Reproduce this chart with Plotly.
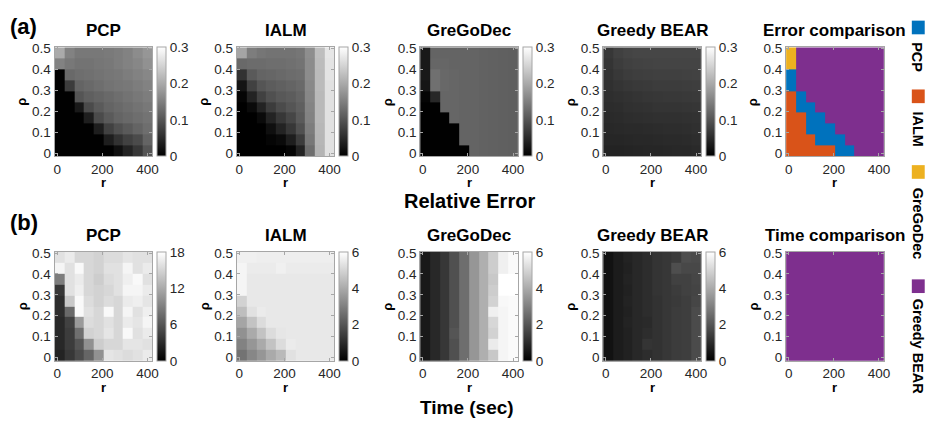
import plotly.graph_objects as go

# ---------------- data ----------------
R_VALUES = [10, 53, 97, 140, 183, 227, 270, 313, 357, 400]
RHO_VALUES = [0.01, 0.062, 0.114, 0.167, 0.219, 0.271, 0.323, 0.376, 0.428, 0.48]
X_TICKS = [0, 200, 400]
Y_TICKS = [0, 0.1, 0.2, 0.3, 0.4, 0.5]
Y_TICK_TEXT = ["0", "0.1", "0.2", "0.3", "0.4", "0.5"]

METHODS = ["PCP", "IALM", "GreGoDec", "Greedy BEAR"]
METHOD_COLORS = ["#0072BD", "#D95319", "#EDB120", "#7E2F8E"]

ERR_TICKS = [0, 0.1, 0.2, 0.3]
ERR_TICK_TEXT = ["0", "0.1", "0.2", "0.3"]
PCP_TIME_TICKS = [0, 6, 12, 18]
TIME_TICKS = [0, 2, 4, 6]

# relative error, rows = rho (bottom -> top), cols = r
PCP_ERR = [
    [0.001, 0.001, 0.001, 0.001, 0.001, 0.001, 0.018, 0.041, 0.065, 0.100],
    [0.001, 0.001, 0.001, 0.001, 0.001, 0.035, 0.059, 0.076, 0.088, 0.118],
    [0.001, 0.001, 0.001, 0.001, 0.035, 0.076, 0.094, 0.106, 0.118, 0.129],
    [0.001, 0.001, 0.001, 0.035, 0.088, 0.106, 0.118, 0.124, 0.129, 0.135],
    [0.001, 0.001, 0.029, 0.088, 0.106, 0.118, 0.124, 0.129, 0.135, 0.141],
    [0.001, 0.001, 0.100, 0.112, 0.118, 0.124, 0.129, 0.135, 0.141, 0.147],
    [0.001, 0.071, 0.118, 0.124, 0.129, 0.135, 0.139, 0.141, 0.147, 0.153],
    [0.001, 0.124, 0.129, 0.132, 0.135, 0.139, 0.141, 0.147, 0.153, 0.159],
    [0.153, 0.141, 0.135, 0.135, 0.139, 0.141, 0.147, 0.153, 0.159, 0.171],
    [0.200, 0.153, 0.141, 0.141, 0.141, 0.144, 0.147, 0.153, 0.165, 0.176],
]
IALM_ERR = [
    [0.000, 0.000, 0.000, 0.000, 0.000, 0.006, 0.041, 0.129, 0.212, 0.265],
    [0.000, 0.000, 0.000, 0.006, 0.012, 0.035, 0.071, 0.141, 0.214, 0.265],
    [0.000, 0.000, 0.000, 0.018, 0.041, 0.065, 0.094, 0.147, 0.215, 0.265],
    [0.000, 0.000, 0.012, 0.041, 0.065, 0.082, 0.106, 0.153, 0.218, 0.265],
    [0.000, 0.012, 0.041, 0.071, 0.088, 0.100, 0.112, 0.155, 0.218, 0.265],
    [0.006, 0.041, 0.076, 0.094, 0.104, 0.108, 0.118, 0.159, 0.218, 0.265],
    [0.024, 0.076, 0.100, 0.108, 0.113, 0.118, 0.124, 0.161, 0.220, 0.265],
    [0.059, 0.106, 0.118, 0.120, 0.124, 0.127, 0.129, 0.165, 0.220, 0.268],
    [0.124, 0.127, 0.127, 0.129, 0.129, 0.132, 0.135, 0.165, 0.221, 0.268],
    [0.194, 0.147, 0.139, 0.135, 0.135, 0.135, 0.139, 0.167, 0.224, 0.271],
]
GREGODEC_ERR = [
    [0.001, 0.001, 0.001, 0.001, 0.001, 0.118, 0.115, 0.114, 0.113, 0.112],
    [0.001, 0.001, 0.001, 0.001, 0.118, 0.118, 0.115, 0.114, 0.113, 0.112],
    [0.001, 0.001, 0.001, 0.001, 0.118, 0.118, 0.115, 0.114, 0.113, 0.112],
    [0.001, 0.001, 0.001, 0.120, 0.118, 0.118, 0.115, 0.114, 0.113, 0.112],
    [0.001, 0.001, 0.120, 0.120, 0.118, 0.118, 0.115, 0.114, 0.113, 0.112],
    [0.006, 0.047, 0.120, 0.120, 0.118, 0.118, 0.115, 0.114, 0.113, 0.112],
    [0.026, 0.132, 0.122, 0.120, 0.118, 0.118, 0.115, 0.114, 0.113, 0.112],
    [0.029, 0.132, 0.122, 0.120, 0.118, 0.118, 0.115, 0.114, 0.113, 0.112],
    [0.029, 0.120, 0.120, 0.118, 0.118, 0.118, 0.115, 0.114, 0.113, 0.112],
    [0.029, 0.118, 0.118, 0.118, 0.118, 0.118, 0.115, 0.114, 0.113, 0.112],
]
GREEDY_ERR = [
    [0.041, 0.041, 0.042, 0.044, 0.045, 0.045, 0.046, 0.047, 0.047, 0.049],
    [0.045, 0.045, 0.046, 0.047, 0.047, 0.048, 0.049, 0.049, 0.051, 0.053],
    [0.047, 0.048, 0.049, 0.049, 0.051, 0.052, 0.053, 0.053, 0.054, 0.056],
    [0.049, 0.051, 0.053, 0.054, 0.055, 0.056, 0.056, 0.056, 0.058, 0.059],
    [0.052, 0.053, 0.056, 0.058, 0.059, 0.061, 0.061, 0.061, 0.062, 0.064],
    [0.054, 0.056, 0.059, 0.061, 0.064, 0.065, 0.066, 0.066, 0.067, 0.068],
    [0.056, 0.061, 0.065, 0.067, 0.068, 0.071, 0.071, 0.071, 0.072, 0.073],
    [0.059, 0.066, 0.071, 0.073, 0.074, 0.075, 0.075, 0.075, 0.076, 0.078],
    [0.061, 0.071, 0.075, 0.078, 0.079, 0.080, 0.080, 0.080, 0.080, 0.080],
    [0.065, 0.075, 0.080, 0.082, 0.082, 0.082, 0.082, 0.082, 0.082, 0.082],
]
# best method index (0 PCP, 1 IALM, 2 GreGoDec, 3 Greedy BEAR)
ERR_BEST = [
    [1, 1, 1, 1, 1, 0, 0, 3, 3, 3],
    [1, 1, 1, 0, 0, 0, 3, 3, 3, 3],
    [1, 1, 0, 0, 0, 3, 3, 3, 3, 3],
    [1, 1, 0, 0, 3, 3, 3, 3, 3, 3],
    [1, 0, 0, 3, 3, 3, 3, 3, 3, 3],
    [1, 0, 3, 3, 3, 3, 3, 3, 3, 3],
    [0, 3, 3, 3, 3, 3, 3, 3, 3, 3],
    [0, 3, 3, 3, 3, 3, 3, 3, 3, 3],
    [2, 3, 3, 3, 3, 3, 3, 3, 3, 3],
    [2, 3, 3, 3, 3, 3, 3, 3, 3, 3],
]

# run time (sec)
PCP_TIME = [
    [2.5, 3.9, 5.3, 7.1, 10.2, 16.2, 15.9, 15.5, 15.9, 16.6],
    [2.8, 4.2, 6.0, 10.2, 14.5, 15.2, 15.2, 16.2, 16.2, 15.9],
    [2.8, 4.2, 7.8, 14.8, 15.2, 16.2, 15.2, 17.6, 15.9, 16.6],
    [2.8, 4.6, 10.9, 15.5, 15.2, 15.9, 15.2, 16.6, 16.2, 17.3],
    [3.2, 7.4, 17.6, 15.9, 15.2, 17.6, 15.2, 17.3, 15.9, 16.9],
    [3.2, 14.1, 17.6, 15.5, 14.8, 15.5, 15.2, 16.6, 16.9, 16.2],
    [3.9, 15.9, 16.9, 15.2, 14.8, 15.2, 15.9, 17.3, 17.3, 16.6],
    [8.8, 15.9, 16.6, 15.2, 14.5, 15.5, 15.9, 16.9, 17.6, 15.9],
    [17.3, 15.9, 17.6, 15.2, 14.8, 15.9, 15.9, 17.3, 15.9, 16.6],
    [15.9, 16.6, 15.2, 15.2, 14.8, 15.5, 15.5, 16.2, 15.9, 15.9],
]
IALM_TIME = [
    [2.71, 3.18, 3.53, 4.00, 4.35, 5.29, 5.46, 5.46, 5.46, 5.46],
    [3.06, 3.53, 4.00, 4.59, 5.18, 5.53, 5.46, 5.46, 5.46, 5.46],
    [3.41, 4.00, 4.59, 5.18, 5.41, 5.46, 5.46, 5.46, 5.46, 5.46],
    [3.88, 4.59, 5.18, 5.46, 5.46, 5.46, 5.46, 5.46, 5.46, 5.46],
    [4.47, 5.29, 5.53, 5.46, 5.46, 5.46, 5.46, 5.46, 5.46, 5.46],
    [4.94, 5.46, 5.46, 5.46, 5.46, 5.46, 5.46, 5.46, 5.46, 5.46],
    [5.76, 5.46, 5.46, 5.46, 5.46, 5.46, 5.46, 5.46, 5.46, 5.46],
    [5.76, 5.46, 5.46, 5.46, 5.46, 5.46, 5.46, 5.46, 5.46, 5.46],
    [5.76, 5.53, 5.53, 5.53, 5.65, 5.53, 5.53, 5.53, 5.53, 5.53],
    [5.65, 5.65, 5.60, 5.60, 5.60, 5.60, 5.60, 5.60, 5.60, 5.60],
]
GREGODEC_TIME = [
    [0.59, 0.94, 1.29, 1.88, 2.59, 3.53, 4.12, 4.71, 5.76, 5.88],
    [0.59, 0.94, 1.29, 1.88, 2.59, 3.53, 4.12, 5.53, 5.76, 5.88],
    [0.59, 0.94, 1.29, 2.00, 2.59, 3.53, 4.12, 4.94, 5.76, 5.88],
    [0.59, 0.94, 1.29, 1.88, 2.59, 3.53, 4.12, 5.06, 5.76, 5.88],
    [0.59, 0.94, 1.29, 1.88, 2.59, 3.53, 4.12, 5.65, 5.76, 5.88],
    [0.59, 0.94, 1.29, 1.88, 2.59, 3.53, 4.12, 4.94, 5.84, 5.88],
    [0.59, 0.94, 1.29, 1.88, 2.59, 3.53, 4.12, 4.82, 6.00, 6.00],
    [0.59, 0.94, 1.29, 1.88, 2.59, 3.53, 4.12, 4.71, 6.00, 6.00],
    [0.59, 0.94, 1.29, 1.88, 2.59, 3.53, 4.12, 4.82, 5.65, 5.88],
    [0.59, 0.94, 1.29, 1.88, 2.59, 3.53, 4.12, 4.82, 5.65, 5.88],
]
GREEDY_TIME = [
    [0.42, 0.66, 0.78, 0.94, 1.06, 1.18, 1.29, 1.41, 1.46, 1.76],
    [0.42, 0.66, 0.78, 0.94, 1.22, 1.18, 1.29, 1.41, 1.46, 1.76],
    [0.42, 0.66, 0.78, 0.94, 1.06, 1.18, 1.29, 1.41, 1.46, 1.76],
    [0.42, 0.66, 0.82, 0.94, 0.99, 1.18, 1.29, 1.41, 1.46, 1.76],
    [0.42, 0.66, 0.78, 0.94, 1.06, 1.18, 1.29, 1.41, 1.46, 1.76],
    [0.42, 0.66, 0.82, 0.94, 1.06, 1.18, 1.29, 1.36, 1.46, 1.65],
    [0.42, 0.66, 0.78, 0.94, 1.06, 1.22, 1.29, 1.41, 1.53, 1.60],
    [0.42, 0.66, 0.82, 0.94, 1.06, 1.22, 1.29, 1.53, 1.53, 1.65],
    [0.42, 0.66, 0.78, 0.94, 1.06, 1.22, 1.29, 1.84, 1.69, 1.69],
    [0.42, 0.66, 0.82, 0.94, 1.06, 1.22, 1.29, 1.41, 1.84, 1.76],
]
TIME_BEST = [[3] * 10 for _ in range(10)]

# ---------------- layout helpers ----------------
W, H = 933, 422
FONT = "Liberation Sans, Arial, sans-serif"
TICK_COLOR = "#262626"
BOX_COLOR = "#a6a6a6"
TICK_SIZE = 13.5

COL_LEFT = [54, 237.5, 422.3, 606.7, 791]
PLOT_W = 98.5
ROW_TOP = [42.3, 251.7]
PLOT_H = 111.8
CB_LEFT = [157, 341, 525.5, 710]
CB_W = 8.5

GRAY = [[0, "rgb(0,0,0)"], [1, "rgb(255,255,255)"]]
DISCRETE = []
for i, c in enumerate(METHOD_COLORS):
    DISCRETE.append([i / 4, c])
    DISCRETE.append([(i + 1) / 4, c])

dx = (R_VALUES[-1] - R_VALUES[0]) / (len(R_VALUES) - 1)
dy = (RHO_VALUES[-1] - RHO_VALUES[0]) / (len(RHO_VALUES) - 1)
X_RANGE = [R_VALUES[0] - dx / 2, R_VALUES[-1] + dx / 2]
Y_RANGE = [RHO_VALUES[0] - dy / 2, RHO_VALUES[-1] + dy / 2]

fig = go.Figure()
layout = {}
annotations = []
shapes = []

rows = [
    [("PCP", PCP_ERR, 0.3, ERR_TICKS, ERR_TICK_TEXT),
     ("IALM", IALM_ERR, 0.3, ERR_TICKS, ERR_TICK_TEXT),
     ("GreGoDec", GREGODEC_ERR, 0.3, ERR_TICKS, ERR_TICK_TEXT),
     ("Greedy BEAR", GREEDY_ERR, 0.3, ERR_TICKS, ERR_TICK_TEXT),
     ("Error comparison", ERR_BEST, None, None, None)],
    [("PCP", PCP_TIME, 18, PCP_TIME_TICKS, [str(t) for t in PCP_TIME_TICKS]),
     ("IALM", IALM_TIME, 6, TIME_TICKS, [str(t) for t in TIME_TICKS]),
     ("GreGoDec", GREGODEC_TIME, 6, TIME_TICKS, [str(t) for t in TIME_TICKS]),
     ("Greedy BEAR", GREEDY_TIME, 6, TIME_TICKS, [str(t) for t in TIME_TICKS]),
     ("Time comparison", TIME_BEST, None, None, None)],
]

k = 0
for ri, row in enumerate(rows):
    top = ROW_TOP[ri]
    bottom = top + PLOT_H
    for ci, (title, z, zmax, cticks, ctext) in enumerate(row):
        k += 1
        left = COL_LEFT[ci]
        right = left + PLOT_W
        xa = "x" if k == 1 else f"x{k}"
        ya = "y" if k == 1 else f"y{k}"
        if zmax is not None:
            fig.add_trace(go.Heatmap(
                z=z, x=R_VALUES, y=RHO_VALUES, xaxis=xa, yaxis=ya,
                colorscale=GRAY, zmin=0, zmax=zmax,
                colorbar=dict(
                    x=CB_LEFT[ci] / W, xanchor="left", xpad=0,
                    y=1 - (top + PLOT_H / 2) / H, yanchor="middle", ypad=0,
                    len=PLOT_H / H, lenmode="fraction",
                    thickness=CB_W, thicknessmode="pixels",
                    outlinewidth=1, outlinecolor=BOX_COLOR,
                    tickvals=cticks, ticktext=ctext, ticks="",
                    tickfont=dict(family=FONT, size=TICK_SIZE, color=TICK_COLOR),
                ),
            ))
        else:
            fig.add_trace(go.Heatmap(
                z=z, x=R_VALUES, y=RHO_VALUES, xaxis=xa, yaxis=ya,
                colorscale=DISCRETE, zmin=-0.5, zmax=3.5, showscale=False,
                customdata=[[METHODS[v] for v in r] for r in z],
                hovertemplate="r=%{x}<br>ρ=%{y}<br>%{customdata}<extra></extra>",
            ))
        common = dict(
            showline=True, mirror="ticks", linecolor=BOX_COLOR, linewidth=1,
            ticks="inside", ticklen=3, tickcolor=BOX_COLOR,
            showgrid=False, zeroline=False, fixedrange=True,
            tickfont=dict(family=FONT, size=TICK_SIZE, color=TICK_COLOR),
        )
        layout["xaxis" if k == 1 else f"xaxis{k}"] = dict(
            domain=[left / W, right / W], anchor=ya, range=X_RANGE,
            tickvals=X_TICKS, ticklabelstandoff=0, **common)
        layout["yaxis" if k == 1 else f"yaxis{k}"] = dict(
            domain=[1 - bottom / H, 1 - top / H], anchor=xa, range=Y_RANGE,
            tickvals=Y_TICKS, ticktext=Y_TICK_TEXT, **common)
        # title
        annotations.append(dict(
            text=f"<b>{title}</b>", x=(left + right) / 2 / W, y=1 - (top - 17) / H,
            xref="paper", yref="paper", showarrow=False, xanchor="center", yanchor="middle",
            font=dict(family=FONT, size=17, color="black")))
        # axis labels
        annotations.append(dict(
            text="<b>ρ</b>", x=(left - 33) / W, y=1 - (top + PLOT_H / 2) / H,
            xref="paper", yref="paper", showarrow=False, textangle=-90,
            xanchor="center", yanchor="middle",
            font=dict(family=FONT, size=13, color="black")))
        annotations.append(dict(
            text="<b>r</b>", x=(left + right) / 2 / W, y=1 - (bottom + 27) / H,
            xref="paper", yref="paper", showarrow=False, borderpad=0,
            xanchor="center", yanchor="middle",
            font=dict(family=FONT, size=13, color="black")))

# panel labels and group titles
for txt, xp, yp, sz in [("(a)", 23, 21, 22), ("(b)", 23, 222, 22),
                        ("Relative Error", 472, 200, 20), ("Time (sec)", 470, 411.5, 19)]:
    annotations.append(dict(
        text=f"<b>{txt}</b>", x=xp / W, y=1 - yp / H, xref="paper", yref="paper",
        showarrow=False, xanchor="center", yanchor="middle", borderpad=0,
        font=dict(family=FONT, size=sz, color="black")))

# legend (vertical, rotated text)
LEG_SQ_TOP = [15, 85.5, 163, 280]
LEG_TXT_MID = [52, 126, 222.5, 348.5]
for i, name in enumerate(METHODS):
    shapes.append(dict(
        type="rect", xref="paper", yref="paper",
        x0=917.7 / W, x1=930.7 / W,
        y0=1 - (LEG_SQ_TOP[i] + 14) / H, y1=1 - LEG_SQ_TOP[i] / H,
        fillcolor=METHOD_COLORS[i], line=dict(width=0)))
    annotations.append(dict(
        text=f"<b>{name}</b>", x=923.5 / W, y=1 - LEG_TXT_MID[i] / H,
        xref="paper", yref="paper", showarrow=False, textangle=90,
        xanchor="center", yanchor="middle",
        font=dict(family=FONT, size=14.5, color="black")))

fig.update_layout(
    width=W, height=H, autosize=False,
    margin=dict(l=0, r=0, t=0, b=0),
    paper_bgcolor="white", plot_bgcolor="white",
    showlegend=False, annotations=annotations, shapes=shapes,
    font=dict(family=FONT),
    **layout,
)

fig.write_html(
    "out.html",
    config={"displayModeBar": False},
    post_script="document.body.style.margin='0';document.body.style.padding='0';"
                "document.documentElement.style.overflow='hidden';",
)
